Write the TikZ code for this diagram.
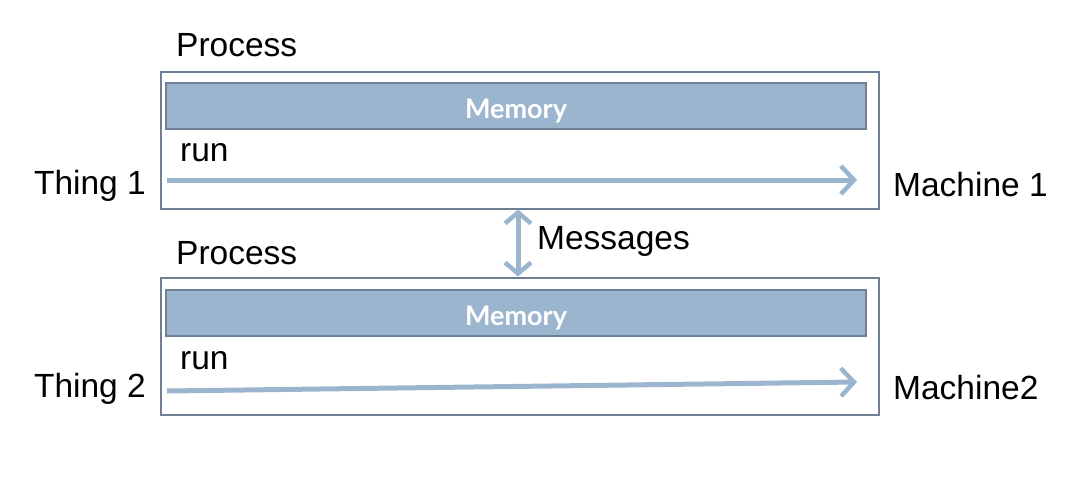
\documentclass[tikz,border=0pt]{standalone}
\usepackage{fontspec}
\setmainfont{Liberation Sans}
\newfontfamily\memfont{Lato}
\usetikzlibrary{arrows.meta,positioning}
\definecolor{boxline}{HTML}{6F8094}
\definecolor{memfill}{HTML}{9CB5CF}
\definecolor{runline}{HTML}{9CB5CF}
\begin{document}
\begin{tikzpicture}[x=1pt, y=-1pt,
	every node/.style = { font=\fontsize{33.5}{38}\selectfont, inner sep=0pt },
	process/.style = { draw=boxline, line width=2pt, minimum width=718pt, minimum height=137pt },
	memory/.style = { draw=boxline, fill=memfill, line width=2pt, minimum width=700pt, minimum height=46pt,
		text height=24pt, text depth=0pt, font=\memfont\bfseries\fontsize{27}{30}\selectfont, text=white },
	runarrow/.style = { draw=runline, line width=5pt, -{Straight Barb[length=13pt, width=28pt, line width=4.5pt]} },
	msgarrow/.style = { draw=runline, line width=5pt, {Straight Barb[length=11pt, width=26pt, line width=4.5pt]}-{Straight Barb[length=11pt, width=26pt, line width=4.5pt]} }]
	\useasboundingbox (0,0) rectangle (1074,482);
	% first machine
	\node [process] (outer1) at (520,140) {};
	\node [memory] (mem1) at (516,106) {Memory};
	\node [anchor=west] (run1) at (180,153) {run};
	\node [anchor=south west] (proc1) at (176,57) {Process};
	\node [anchor=east] (thing1) at (146,186) {Thing 1};
	\node [anchor=west] (mach1) at (893,185) {Machine 1};
	\coordinate (s1) at (167,180);
	\coordinate (e1) at (857,180);
	\draw [runarrow] (s1) -- (e1);
	% second machine
	\node [process] (outer2) at (520,346) {};
	\node [memory] (mem2) at (516,313) {Memory};
	\node [anchor=west] (run2) at (180,361) {run};
	\node [anchor=south west] (proc2) at (176,265) {Process};
	\node [anchor=east] (thing2) at (146,389) {Thing 2};
	\node [anchor=west] (mach2) at (893,388) {Machine2};
	\coordinate (s2) at (167,391);
	\coordinate (e2) at (857,382);
	\draw [runarrow] (s2) -- (e2);
	% messages between them
	\draw [msgarrow] ([xshift=-2pt]outer1.south) -- ([xshift=-2pt]outer2.north);
	\node [anchor=west] (msg) at (537,241) {Messages};
\end{tikzpicture}
\end{document}
